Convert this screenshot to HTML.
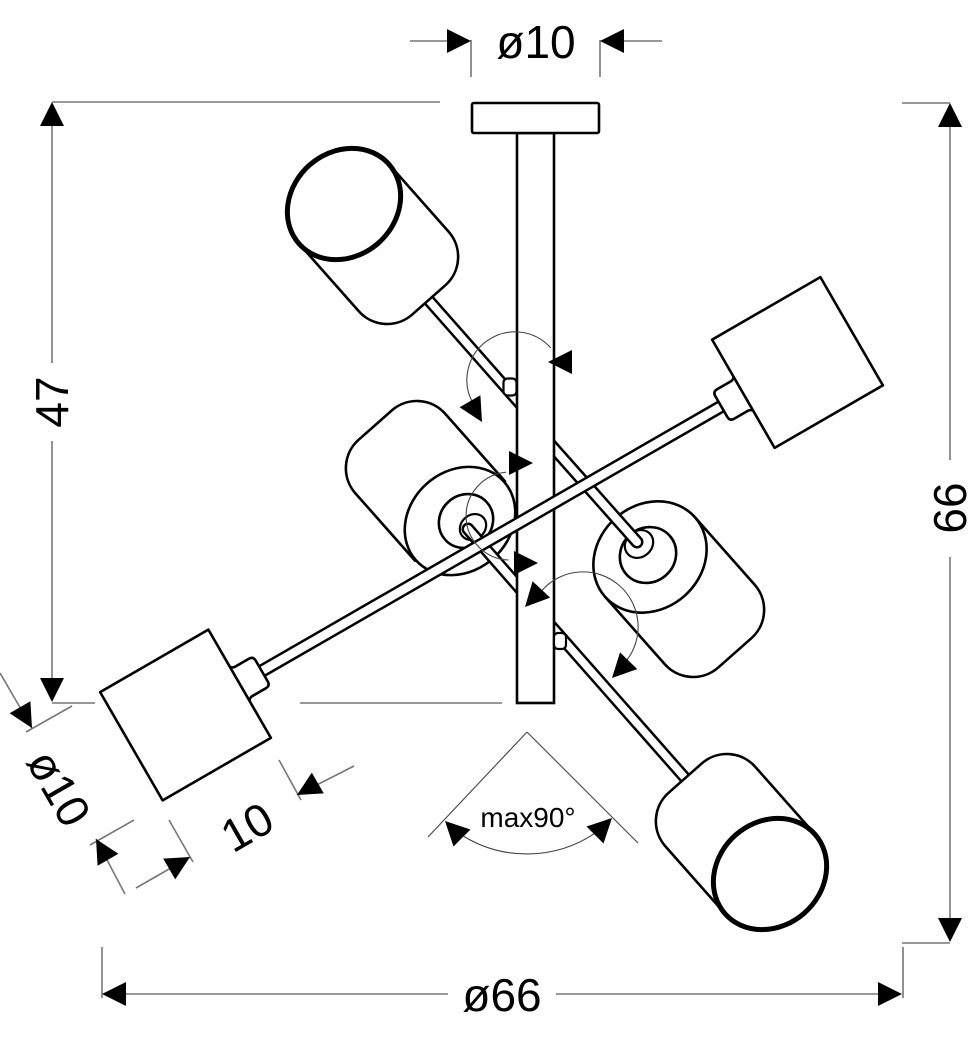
<!DOCTYPE html>
<html><head><meta charset="utf-8"><style>
html,body{margin:0;padding:0;background:#fff;}
svg{display:block;}
text{font-family:"Liberation Sans",Arial,sans-serif;fill:#000;}
</style></head><body>
<svg width="970" height="1038" viewBox="0 0 970 1038" xmlns="http://www.w3.org/2000/svg">
<defs>
<polygon id="ah" points="0,0 -24,-12 -24,12" fill="#000"/>
</defs>
<rect width="970" height="1038" fill="#fff"/>

<!-- dimension lines -->
<g stroke="#777" stroke-width="1.6" fill="none">
 <line x1="410" y1="41" x2="450" y2="41"/>
 <line x1="471" y1="40" x2="471" y2="77"/>
 <line x1="600" y1="40" x2="600" y2="77"/>
 <line x1="622" y1="41" x2="662" y2="41"/>

 <line x1="52" y1="102" x2="440" y2="102"/>
 <line x1="52" y1="110" x2="52" y2="363"/>
 <line x1="52" y1="441" x2="52" y2="695"/>
 <line x1="52" y1="703" x2="95" y2="703"/>
 <line x1="300" y1="703" x2="502" y2="703"/>

 <line x1="902" y1="103" x2="950" y2="103"/>
 <line x1="950" y1="110" x2="950" y2="460"/>
 <line x1="950" y1="557" x2="950" y2="935"/>
 <line x1="902" y1="943" x2="950" y2="943"/>

 <line x1="102" y1="947" x2="102" y2="998"/>
 <line x1="903" y1="947" x2="903" y2="998"/>
 <line x1="110" y1="994" x2="448" y2="994"/>
 <line x1="556" y1="994" x2="895" y2="994"/>

 <line x1="72" y1="706" x2="26" y2="732"/>
 <line x1="134" y1="820" x2="90" y2="845"/>
 <line x1="0" y1="673" x2="32" y2="728"/>
 <line x1="96" y1="839" x2="125" y2="894"/>

 <line x1="169" y1="820" x2="193" y2="862"/>
 <line x1="279" y1="760" x2="301" y2="800"/>
 <line x1="136" y1="888" x2="190" y2="857"/>
 <line x1="297" y1="795" x2="354" y2="766"/>
</g>

<!-- upper-left arm + lamp -->
<line x1="410" y1="279" x2="522" y2="406" stroke="#000" stroke-width="12.5"/>
<line x1="410" y1="279" x2="522" y2="406" stroke="#fff" stroke-width="7.5"/>
<g transform="translate(344,204) rotate(48.5)" stroke="#000" fill="#fff" stroke-linejoin="round">
 <path d="M0,-60 H90 A38,38 0 0 1 128,-22 V22 A38,38 0 0 1 90,60 H0 Z" stroke-width="2.6"/>
 <ellipse cx="0" cy="0" rx="52" ry="60" stroke-width="5"/>
</g>

<!-- lower-right arm + lamp -->
<line x1="697" y1="791.5" x2="545" y2="619" stroke="#000" stroke-width="12.5"/>
<line x1="697" y1="791.5" x2="545" y2="619" stroke="#fff" stroke-width="7.5"/>
<g transform="translate(770,874) rotate(228.5)" stroke="#000" fill="#fff" stroke-linejoin="round">
 <path d="M0,-60 H90 A38,38 0 0 1 128,-22 V22 A38,38 0 0 1 90,60 H0 Z" stroke-width="2.6"/>
 <ellipse cx="0" cy="0" rx="52" ry="60" stroke-width="5"/>
</g>

<!-- middle-left lamp -->
<g transform="translate(460,521) rotate(228.5)" stroke="#000" fill="#fff" stroke-width="2.6" stroke-linejoin="round">
 <path d="M0,-60 H90 A38,38 0 0 1 128,-22 V22 A38,38 0 0 1 90,60 H0 Z"/>
 <ellipse cx="0" cy="0" rx="50" ry="59"/>
</g>
<ellipse cx="466" cy="521" rx="26" ry="28" transform="rotate(48.5 466 521)" fill="#fff" stroke="#000" stroke-width="2.6"/>
<ellipse cx="473" cy="527" rx="12" ry="14" transform="rotate(48.5 473 527)" fill="#fff" stroke="#000" stroke-width="2.2"/>
<line x1="468" y1="529" x2="524" y2="593" stroke="#000" stroke-width="13" stroke-linecap="round"/>
<line x1="468" y1="529" x2="524" y2="593" stroke="#fff" stroke-width="8" stroke-linecap="round"/>

<!-- middle-right lamp -->
<g transform="translate(650,557) rotate(48.5)" stroke="#000" fill="#fff" stroke-width="2.6" stroke-linejoin="round">
 <path d="M0,-60 H90 A38,38 0 0 1 128,-22 V22 A38,38 0 0 1 90,60 H0 Z"/>
 <ellipse cx="0" cy="0" rx="52" ry="60"/>
</g>
<ellipse cx="648" cy="555" rx="27" ry="29" transform="rotate(48.5 648 555)" fill="#fff" stroke="#000" stroke-width="2.6"/>
<ellipse cx="639" cy="544" rx="13" ry="15" transform="rotate(48.5 639 544)" fill="#fff" stroke="#000" stroke-width="2.2"/>
<line x1="534" y1="426" x2="637" y2="542" stroke="#000" stroke-width="13" stroke-linecap="round"/>
<line x1="534" y1="426" x2="637" y2="542" stroke="#fff" stroke-width="8" stroke-linecap="round"/>

<!-- rod + canopy -->
<rect x="517" y="133" width="37" height="570" fill="#fff" stroke="#000" stroke-width="2.6"/>
<rect x="472" y="103" width="127" height="30" rx="2" fill="#fff" stroke="#000" stroke-width="2.6"/>

<!-- knobs -->
<rect x="503.5" y="378.5" width="13" height="17" rx="4" fill="#fff" stroke="#000" stroke-width="2.2"/>
<rect x="554" y="633" width="12" height="16" rx="4" fill="#fff" stroke="#000" stroke-width="2.2"/>

<!-- long arm -->
<line x1="255" y1="675" x2="728" y2="402.5" stroke="#000" stroke-width="13.5"/>
<line x1="255" y1="675" x2="728" y2="402.5" stroke="#fff" stroke-width="8.5"/>

<!-- lower-left square lamp -->
<g transform="translate(185.5,715) rotate(-30)" stroke="#000" fill="#fff" stroke-width="2.6" stroke-linejoin="round">
 <path d="M60,-22 Q64,-17 67,-17 H83 Q88,-17 88,-12 V12 Q88,17 83,17 H67 Q64,17 60,22 Z"/>
 <rect x="-62.5" y="-62.5" width="125" height="125"/>
</g>
<!-- upper-right square lamp -->
<g transform="translate(797.5,362.5) rotate(-30)" stroke="#000" fill="#fff" stroke-width="2.6" stroke-linejoin="round">
 <path d="M-60,-22 Q-64,-17 -67,-17 H-83 Q-88,-17 -88,-12 V12 Q-88,17 -83,17 H-67 Q-64,17 -60,22 Z"/>
 <rect x="-62.5" y="-62.5" width="125" height="125"/>
</g>

<!-- rotation arcs -->
<g stroke="#444" stroke-width="1.1" fill="none">
 <path d="M550.7,347.9 A48,48 0 0 0 473.4,404"/>
 <path d="M506.2,472.2 A44,44 0 0 0 508.5,560"/>
 <path d="M542.1,590.2 A55,55 0 0 1 626.3,660.9"/>
 <line x1="527" y1="732" x2="428" y2="837"/>
 <line x1="527" y1="732" x2="638" y2="843"/>
 <path d="M595.2,833.1 A122,122 0 0 1 462.4,835.5"/>
</g>

<!-- arrowheads -->
<use href="#ah" transform="translate(471,41)"/>
<use href="#ah" transform="translate(600,41) rotate(180)"/>
<use href="#ah" transform="translate(52,102) rotate(-90)"/>
<use href="#ah" transform="translate(52,702) rotate(90)"/>
<use href="#ah" transform="translate(950,103) rotate(-90)"/>
<use href="#ah" transform="translate(950,942) rotate(90)"/>
<use href="#ah" transform="translate(102,994) rotate(180)"/>
<use href="#ah" transform="translate(902,994)"/>
<use href="#ah" transform="translate(32,728) rotate(60)"/>
<use href="#ah" transform="translate(96,839) rotate(240)"/>
<use href="#ah" transform="translate(190,857) rotate(-30)"/>
<use href="#ah" transform="translate(297,795) rotate(150)"/>
<use href="#ah" transform="translate(445,821) rotate(225)"/>
<use href="#ah" transform="translate(612,818) rotate(-45)"/>
<use href="#ah" transform="translate(548,362) rotate(180)"/>
<use href="#ah" transform="translate(482,422) rotate(60)"/>
<use href="#ah" transform="translate(533,463)"/>
<use href="#ah" transform="translate(538,563)"/>
<use href="#ah" transform="translate(525,607) rotate(133)"/>
<use href="#ah" transform="translate(612,678) rotate(134)"/>

<!-- labels -->
<text x="536" y="58" font-size="46" text-anchor="middle">ø10</text>
<text transform="translate(52,402) rotate(-90)" x="0" y="16" font-size="46" text-anchor="middle">47</text>
<text transform="translate(950,508) rotate(-90)" x="0" y="16" font-size="46" text-anchor="middle">66</text>
<text x="502" y="1011" font-size="46" text-anchor="middle">ø66</text>
<text transform="translate(59,788) rotate(60)" x="0" y="16" font-size="46" text-anchor="middle">ø10</text>
<text transform="translate(247,827) rotate(-30)" x="0" y="16" font-size="46" text-anchor="middle">10</text>
<text x="528" y="827" font-size="28" text-anchor="middle">max90°</text>
</svg>
</body></html>
